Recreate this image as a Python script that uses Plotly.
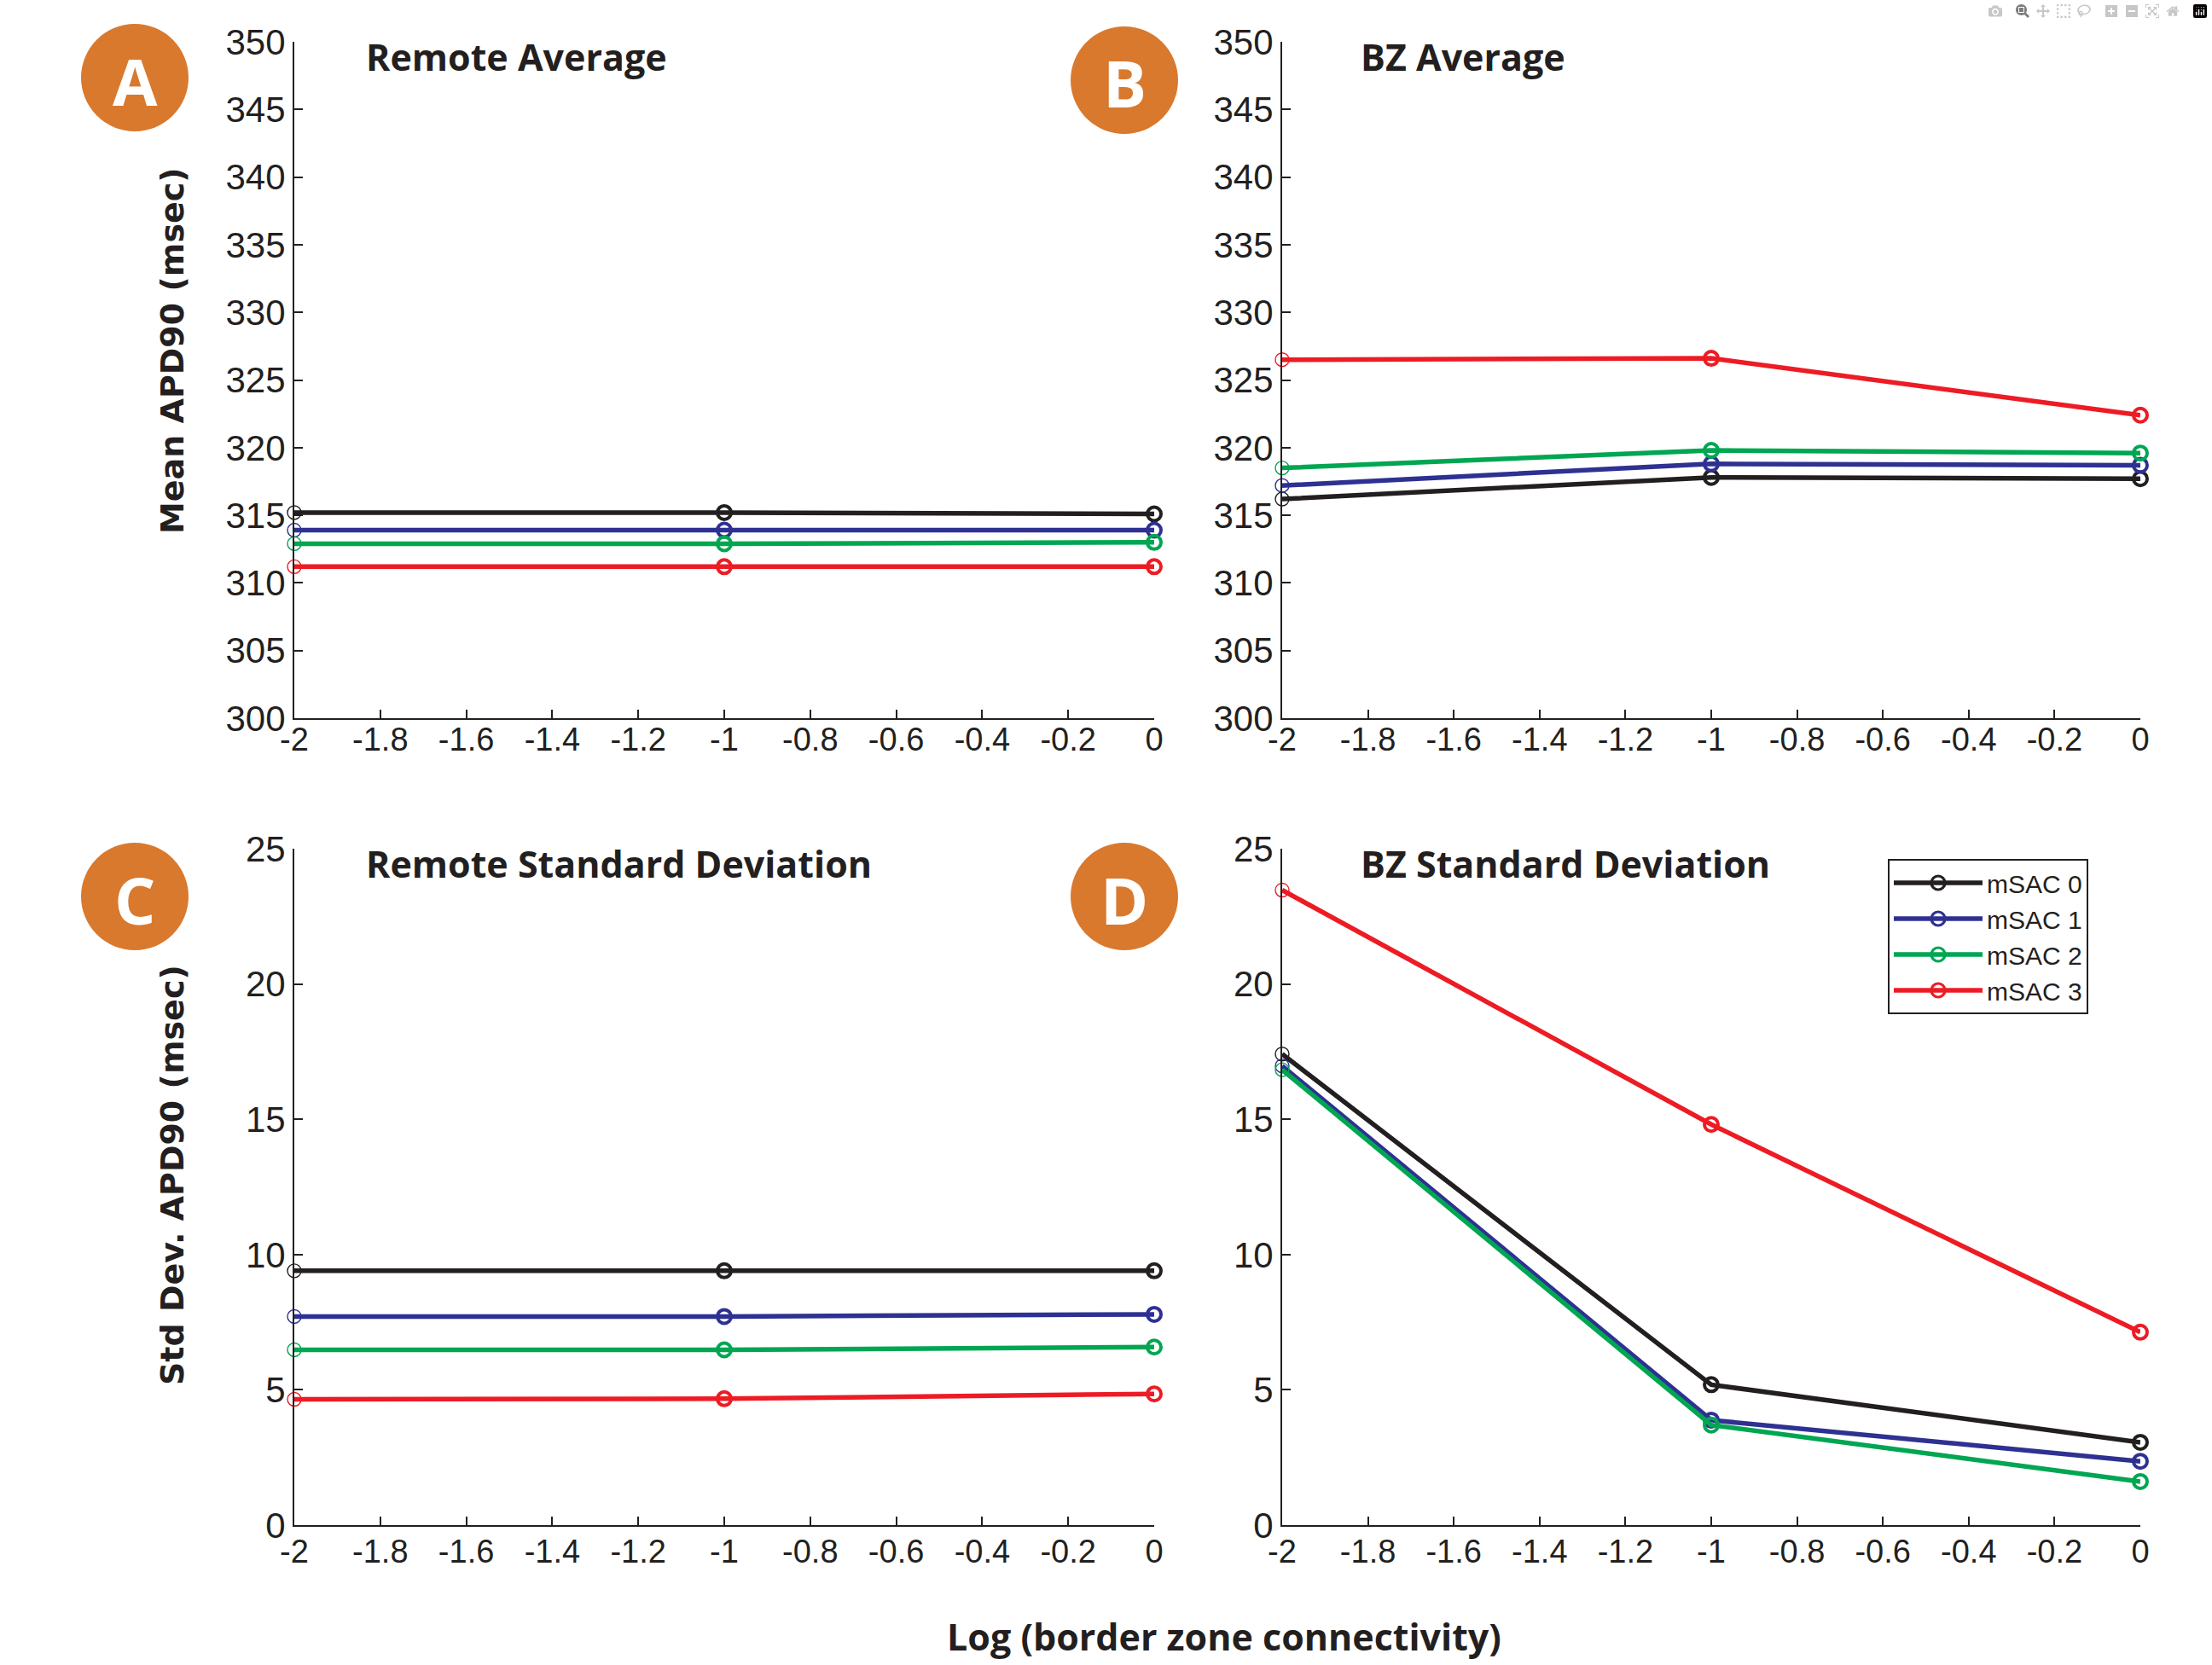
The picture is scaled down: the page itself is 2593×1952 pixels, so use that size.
import plotly.graph_objects as go

W, H = 2593, 1952

# ---------------- data ----------------
X_LOG = [-2, -1, 0]
SERIES = ["mSAC 0", "mSAC 1", "mSAC 2", "mSAC 3"]
COLORS = ["#231F20", "#2E3192", "#00A651", "#ED1C24"]

REMOTE_AVG = [
    [315.2, 315.2, 315.1],
    [313.9, 313.9, 313.9],
    [312.9, 312.9, 313.0],
    [311.2, 311.2, 311.2],
]
BZ_AVG = [
    [316.2, 317.8, 317.7],
    [317.2, 318.8, 318.7],
    [318.5, 319.8, 319.6],
    [326.5, 326.6, 322.4],
]
REMOTE_SD = [
    [9.40, 9.40, 9.40],
    [7.71, 7.71, 7.79],
    [6.48, 6.48, 6.58],
    [4.65, 4.67, 4.85],
]
BZ_SD = [
    [17.41, 5.19, 3.06],
    [16.97, 3.88, 2.36],
    [16.83, 3.70, 1.61],
    [23.47, 14.81, 7.13],
]

X_TICKS = [-2, -1.8, -1.6, -1.4, -1.2, -1, -0.8, -0.6, -0.4, -0.2, 0]
X_TICK_TEXT = ["-2", "-1.8", "-1.6", "-1.4", "-1.2", "-1", "-0.8", "-0.6", "-0.4", "-0.2", "0"]
AVG_TICKS = [300, 305, 310, 315, 320, 325, 330, 335, 340, 345, 350]
SD_TICKS = [0, 5, 10, 15, 20, 25]

TITLES = ["Remote Average", "BZ Average", "Remote Standard Deviation", "BZ Standard Deviation"]
BADGES = ["A", "B", "C", "D"]

# ---------------- layout helpers ----------------
def fx(px):
    return px / W


def fy(py):
    return 1 - py / H


INK = "#231F20"
ORANGE = "#D9792E"
XTICK_FONT = dict(family="Liberation Sans, Arial, sans-serif", size=38, color=INK)
YTICK_FONT = dict(family="Liberation Sans, Arial, sans-serif", size=42, color=INK)
TITLE_FONT = dict(family="Open Sans, sans-serif", size=43, color=INK)

# panel pixel boxes: (left, right, top, bottom)
PANELS = [
    (345, 1353, 49, 842),
    (1503, 2509, 49, 842),
    (345, 1353, 995, 1788),
    (1503, 2509, 995, 1788),
]
X_STANDOFF = [-10, -10, -4, -4]
DATASETS = [REMOTE_AVG, BZ_AVG, REMOTE_SD, BZ_SD]
YRANGES = [[300, 350], [300, 350], [0, 25], [0, 25]]
YTICKS = [AVG_TICKS, AVG_TICKS, SD_TICKS, SD_TICKS]

fig = go.Figure()

for p, data in enumerate(DATASETS):
    xa = "x" if p == 0 else f"x{p + 1}"
    ya = "y" if p == 0 else f"y{p + 1}"
    for s, vals in enumerate(data):
        fig.add_trace(go.Scatter(
            x=X_LOG, y=vals, xaxis=xa, yaxis=ya,
            mode="lines+markers",
            name=SERIES[s],
            legendgroup=SERIES[s],
            showlegend=(p == 3),
            cliponaxis=False,
            line=dict(color=COLORS[s], width=5.5),
            marker=dict(symbol="circle-open", size=16, color=COLORS[s],
                        line=dict(color=COLORS[s], width=[1.4, 4, 4])),
        ))

layout = dict(
    width=W, height=H,
    margin=dict(l=0, r=0, t=0, b=0, autoexpand=False),
    paper_bgcolor="white", plot_bgcolor="white",
    showlegend=True,
    legend=dict(
        x=fx(2213), y=fy(1007), xanchor="left", yanchor="top",
        bordercolor=INK, borderwidth=2, bgcolor="white",
        font=dict(family="Liberation Sans, Arial, sans-serif", size=30, color=INK),
        itemwidth=104, tracegroupgap=0,
    ),
)

for p, (l, r, t, b) in enumerate(PANELS):
    xk = "xaxis" if p == 0 else f"xaxis{p + 1}"
    yk = "yaxis" if p == 0 else f"yaxis{p + 1}"
    yanchor = "y" if p == 0 else f"y{p + 1}"
    xanchor = "x" if p == 0 else f"x{p + 1}"
    layout[xk] = dict(
        domain=[fx(l), fx(r)], anchor=yanchor, range=[-2, 0], automargin=False,
        tickvals=X_TICKS, ticktext=X_TICK_TEXT, ticklabelstandoff=X_STANDOFF[p],
        showline=True, linecolor=INK, linewidth=2,
        ticks="inside", ticklen=10, tickwidth=2, tickcolor=INK,
        showgrid=False, zeroline=False, tickfont=XTICK_FONT,
    )
    layout[yk] = dict(
        domain=[fy(b), fy(t)], anchor=xanchor, range=YRANGES[p], automargin=False,
        tickvals=YTICKS[p],
        showline=True, linecolor=INK, linewidth=2,
        ticks="inside", ticklen=10, tickwidth=2, tickcolor=INK,
        showgrid=False, zeroline=False, tickfont=YTICK_FONT,
    )

fig.update_layout(**layout)

# panel titles
TITLE_POS = [(427, 66), (1593, 66), (427, 1012), (1593, 1012)]
for txt, (px, py) in zip(TITLES, TITLE_POS):
    fig.add_annotation(text=f"<b>{txt}</b>", x=fx(px), y=fy(py), xref="paper", yref="paper",
                       xanchor="left", yanchor="middle", showarrow=False, font=TITLE_FONT)

# badges
BADGE_POS = [(158, 91), (1318, 94), (158, 1051), (1318, 1051)]
R = 63
for letter, (cx, cy) in zip(BADGES, BADGE_POS):
    fig.add_shape(type="circle", xref="paper", yref="paper",
                  x0=fx(cx - R), x1=fx(cx + R), y0=fy(cy + R), y1=fy(cy - R),
                  fillcolor=ORANGE, line=dict(width=0), layer="above")
    fig.add_annotation(text=f"<b>{letter}</b>", x=fx(cx), y=fy(cy), xref="paper", yref="paper",
                       xanchor="center", yanchor="middle", showarrow=False, yshift=-3,
                       font=dict(family="Open Sans, sans-serif", size=76, color="white"))

# axis titles
YLAB_FONT = dict(family="DejaVu Sans, Verdana, sans-serif", size=38, color=INK)
fig.add_annotation(text="<b>Mean APD90 (msec)</b>", x=fx(202), y=fy(411), xref="paper", yref="paper",
                   textangle=-90, showarrow=False, xanchor="center", yanchor="middle", font=YLAB_FONT)
fig.add_annotation(text="<b>Std Dev. APD90 (msec)</b>", x=fx(202), y=fy(1378), xref="paper", yref="paper",
                   textangle=-90, showarrow=False, xanchor="center", yanchor="middle", font=YLAB_FONT)
fig.add_annotation(text="<b>Log (border zone connectivity)</b>", x=fx(1435), y=fy(1918),
                   xref="paper", yref="paper", showarrow=False, xanchor="center", yanchor="middle",
                   font=TITLE_FONT)

fig.write_html("out.html", post_script="document.body.style.margin='0';")
